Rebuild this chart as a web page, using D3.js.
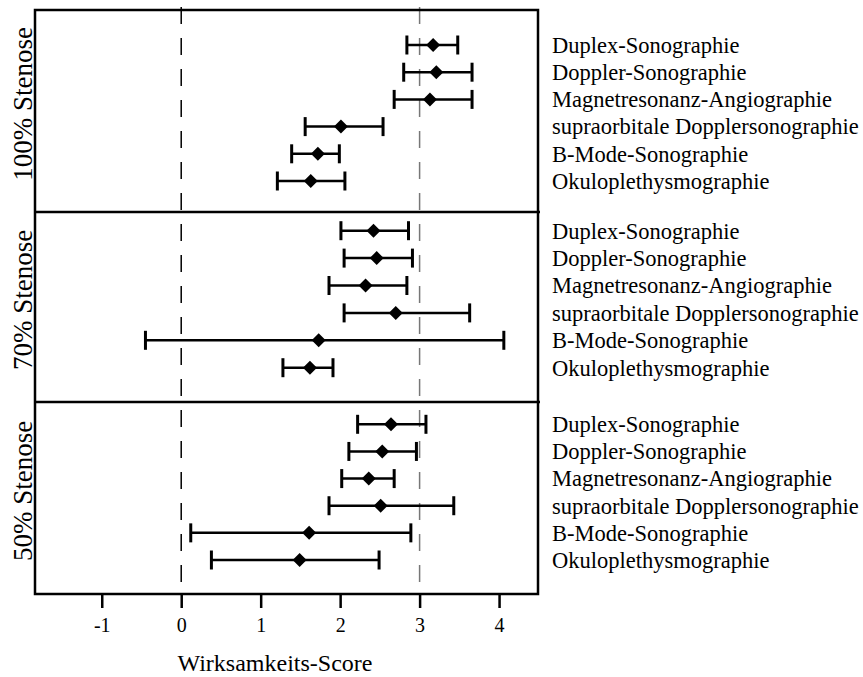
<!DOCTYPE html>
<html>
<head>
<meta charset="utf-8">
<script src="https://cdn.jsdelivr.net/npm/d3@7"></script>
<style>
  html, body { margin: 0; padding: 0; background: #fff; }
  svg { display: block; }
</style>
</head>
<body>
<svg id="chart" width="863" height="677"></svg>
<script>
// ---------- data ----------
const methods = [
  "Duplex-Sonographie",
  "Doppler-Sonographie",
  "Magnetresonanz-Angiographie",
  "supraorbitale Dopplersonographie",
  "B-Mode-Sonographie",
  "Okuloplethysmographie"
];
const panels = ["100% Stenose", "70% Stenose", "50% Stenose"];

// mean, lower, upper per method (per panel)
const mean100  = [3.17, 3.21, 3.13, 2.01, 1.72, 1.63];
const lower100 = [2.84, 2.80, 2.68, 1.56, 1.39, 1.21];
const upper100 = [3.48, 3.66, 3.66, 2.54, 1.99, 2.06];

const mean70  = [2.42, 2.46, 2.32, 2.70, 1.73, 1.62];
const lower70 = [2.01, 2.05, 1.86, 2.05, -0.45, 1.28];
const upper70 = [2.86, 2.91, 2.84, 3.63, 4.06, 1.91];

const mean50  = [2.64, 2.53, 2.36, 2.51, 1.61, 1.49];
const lower50 = [2.22, 2.11, 2.02, 1.86, 0.12, 0.38];
const upper50 = [3.08, 2.96, 2.68, 3.43, 2.89, 2.49];

const xTicks = [-1, 0, 1, 2, 3, 4];
const refLines = [0, 3];
const xTitle = "Wirksamkeits-Score";

// ---------- layout ----------
const FONT = "'Liberation Serif', 'Times New Roman', Times, 'DejaVu Serif', serif";
const svg = d3.select("#chart").attr("font-family", FONT);
const L = 35, R = 538;
const panelBounds = [[10, 212], [212, 402], [402, 594]];
const rowRanges = [[45, 181], [230.7, 367.7], [424.3, 560]];
const means = [mean100, mean70, mean50];
const lowers = [lower100, lower70, lower50];
const uppers = [upper100, upper70, upper50];

const x = d3.scaleLinear().domain([-1.84, 4.49]).range([L, R]);
const frameTop = panelBounds[0][0], frameBottom = panelBounds[2][1];

const diamond = {
  draw(ctx, size) {
    const r = Math.sqrt(size) * 0.62625;
    ctx.moveTo(0, -r); ctx.lineTo(r, 0); ctx.lineTo(0, r); ctx.lineTo(-r, 0); ctx.closePath();
  }
};

// reference dashed lines
svg.selectAll("line.ref").data(refLines).join("line")
  .attr("class", "ref")
  .attr("x1", d => x(d)).attr("x2", d => x(d))
  .attr("y1", frameTop - 3).attr("y2", frameBottom)
  .attr("stroke", d => d === 0 ? "#000" : "#777")
  .attr("stroke-width", 1.5)
  .attr("stroke-dasharray", "17,14");

panels.forEach((p, i) => {
  const [y0, y1] = panelBounds[i];
  const y = d3.scalePoint().domain(methods).range(rowRanges[i]);
  const g = svg.append("g");
  const rows = methods.map((m, j) => ({m, mean: means[i][j], lo: lowers[i][j], hi: uppers[i][j]}));

  // whiskers
  g.selectAll("line.bar").data(rows).join("line")
    .attr("class", "bar")
    .attr("x1", d => x(d.lo)).attr("x2", d => x(d.hi))
    .attr("y1", d => y(d.m)).attr("y2", d => y(d.m))
    .attr("stroke", "#000").attr("stroke-width", 2.5);
  // caps
  ["lo", "hi"].forEach(k => {
    g.selectAll("line.cap" + k).data(rows).join("line")
      .attr("class", "cap" + k)
      .attr("x1", d => x(d[k])).attr("x2", d => x(d[k]))
      .attr("y1", d => y(d.m) - 9.5).attr("y2", d => y(d.m) + 9.5)
      .attr("stroke", "#000").attr("stroke-width", 3);
  });
  // diamonds
  g.selectAll("path.pt").data(rows).join("path")
    .attr("class", "pt")
    .attr("transform", d => `translate(${x(d.mean)},${y(d.m)})`)
    .attr("d", d3.symbol(diamond, 125)())
    .attr("fill", "#000");

  // method labels
  g.selectAll("text.lab").data(methods).join("text")
    .attr("class", "lab")
    .attr("x", 552).attr("y", d => y(d)).attr("dy", "0.35em")
    .attr("font-family", FONT).attr("font-size", 22.5).attr("fill", "#000")
    .text(d => d);

  // panel label
  g.append("text")
    .attr("transform", `translate(23,${(y0 + y1) / 2 - 7}) rotate(-90)`)
    .attr("text-anchor", "middle").attr("dy", "0.35em")
    .attr("font-family", FONT).attr("font-size", 27).attr("fill", "#000")
    .text(p);
});

// frame and panel separators
svg.append("rect")
  .attr("x", L).attr("y", frameTop).attr("width", R - L).attr("height", frameBottom - frameTop)
  .attr("fill", "none").attr("stroke", "#000").attr("stroke-width", 2.5);
svg.selectAll("line.sep").data([panelBounds[1][0], panelBounds[2][0]]).join("line")
  .attr("class", "sep")
  .attr("x1", L).attr("x2", R + 2).attr("y1", d => d).attr("y2", d => d)
  .attr("stroke", "#000").attr("stroke-width", 2.5);

// x axis
const axis = d3.axisBottom(x).tickValues(xTicks).tickSize(14).tickPadding(10)
  .tickFormat(d => String(d));
const ax = svg.append("g").attr("transform", `translate(0,${frameBottom})`).call(axis)
  .attr("font-family", FONT).attr("font-size", 20);
ax.select(".domain").remove();
ax.selectAll(".tick line").attr("stroke", "#000").attr("stroke-width", 2.5);
ax.selectAll(".tick text").attr("fill", "#000");

svg.append("text")
  .attr("x", 275).attr("y", 671)
  .attr("text-anchor", "middle")
  .attr("font-family", FONT).attr("font-size", 24).attr("fill", "#000")
  .text(xTitle);
</script>
</body>
</html>
